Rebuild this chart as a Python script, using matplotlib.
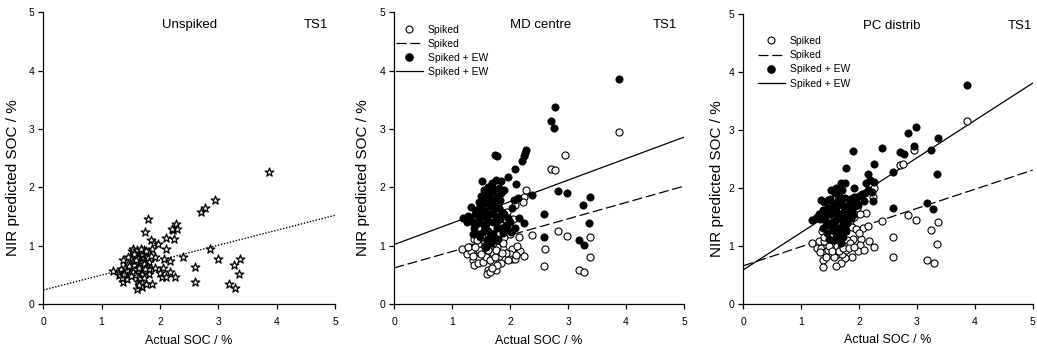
import matplotlib
matplotlib.use("Agg")
import matplotlib.pyplot as plt
from matplotlib.lines import Line2D
import numpy as np

plt.rcParams['font.family'] = ['Liberation Sans', 'DejaVu Sans']

# ---------------- data ----------------
# Panel 1: Unspiked
unspiked_x = [3.87, 2.95, 2.71, 2.77, 1.79, 1.75, 2.27, 2.23, 2.29, 2.20,
              2.10, 2.24, 2.11, 1.84, 1.90, 1.96, 1.87, 2.39, 2.86, 3.00,
              3.38, 3.27, 3.36, 3.18, 3.29, 2.60, 2.60, 2.07, 2.17, 2.05,
              1.91, 2.18, 2.00, 2.03, 2.10, 2.26, 1.82, 1.87, 1.91, 1.20,
              1.29, 1.37, 1.37, 1.43, 1.60, 1.69, 1.76, 1.30, 1.33, 1.35,
              1.40, 1.42, 1.45, 1.48, 1.50, 1.52, 1.54, 1.55, 1.57, 1.58,
              1.60, 1.61, 1.62, 1.63, 1.65, 1.66, 1.68, 1.70, 1.71, 1.72,
              1.74, 1.75, 1.77, 1.78, 1.80, 1.82, 1.84, 1.38, 1.44, 1.47,
              1.53, 1.56, 1.59, 1.64, 1.67, 1.69, 1.73, 1.76, 1.81, 1.62,
              1.65, 1.58, 1.72, 1.70, 1.64, 1.50, 1.46, 1.56, 1.68, 1.74]
unspiked_y = [2.26, 1.79, 1.58, 1.64, 1.45, 1.23, 1.37, 1.27, 1.28, 1.29,
              1.13, 1.12, 0.94, 1.09, 1.05, 1.03, 0.94, 0.80, 0.94, 0.77,
              0.77, 0.66, 0.51, 0.35, 0.28, 0.64, 0.38, 0.77, 0.73, 0.62,
              0.61, 0.55, 0.53, 0.47, 0.46, 0.47, 0.51, 0.35, 0.81, 0.57,
              0.49, 0.75, 0.37, 0.42, 0.25, 0.29, 0.34, 0.55, 0.60, 0.45,
              0.62, 0.55, 0.68, 0.58, 0.64, 0.90, 0.95, 0.72, 0.60, 0.82,
              0.92, 0.68, 0.55, 0.78, 0.88, 0.40, 0.70, 0.85, 0.62, 0.92,
              0.75, 0.55, 0.80, 0.66, 0.78, 0.72, 0.82, 0.52, 0.58, 0.65,
              0.55, 0.66, 0.75, 0.62, 0.93, 0.52, 0.68, 0.90, 0.60, 0.38,
              0.45, 0.50, 0.44, 0.36, 0.32, 0.48, 0.80, 0.86, 0.95, 0.60]

# Panel 2: MD centre
md_ew_x = [3.87, 2.78, 2.70, 2.76, 2.27, 2.24, 2.21, 2.26, 1.73, 1.77,
           2.08, 1.96, 2.10, 2.83, 2.98, 3.38, 2.37, 3.25, 2.59, 3.36,
           2.58, 3.18, 3.28, 2.24, 2.15, 2.08, 2.01, 1.97, 2.04, 2.06,
           2.14, 1.90, 1.90, 1.82, 1.85, 1.69, 1.67, 1.75, 1.51, 1.18,
           1.28, 1.33, 1.59, 1.35, 1.38, 1.40, 1.42, 1.45, 1.47, 1.50,
           1.52, 1.54, 1.55, 1.57, 1.58, 1.60, 1.61, 1.62, 1.63, 1.65,
           1.66, 1.68, 1.70, 1.71, 1.72, 1.74, 1.75, 1.77, 1.78, 1.80,
           1.82, 1.84, 1.86, 1.88, 1.60, 1.65, 1.70, 1.55, 1.48, 1.44,
           1.36, 1.30, 1.25, 1.52, 1.58, 1.63, 1.67, 1.73, 1.79, 1.92,
           1.95, 2.00, 1.85, 1.76, 1.62, 1.56, 1.46, 1.41, 1.68, 1.80]
md_ew_y = [3.86, 3.37, 3.14, 3.02, 2.64, 2.53, 2.45, 2.58, 2.55, 2.54,
           2.31, 2.18, 2.06, 1.93, 1.91, 1.84, 1.87, 1.69, 1.55, 1.39,
           1.14, 1.10, 1.01, 1.39, 1.47, 1.30, 1.24, 1.47, 1.64, 1.78,
           1.81, 1.55, 1.95, 1.78, 2.10, 2.07, 1.93, 2.13, 2.10, 1.47,
           1.51, 1.67, 0.98, 1.40, 1.30, 1.55, 1.20, 1.62, 1.45, 1.85,
           1.70, 1.35, 1.95, 1.60, 1.78, 1.48, 2.00, 1.25, 1.88, 1.68,
           1.55, 1.80, 1.40, 1.95, 1.62, 1.75, 1.50, 1.85, 1.30, 1.65,
           1.45, 1.90, 1.58, 1.22, 1.10, 1.15, 1.20, 1.25, 1.15, 1.38,
           1.20, 1.45, 1.40, 1.50, 1.38, 1.72, 1.05, 1.10, 1.12, 1.35,
           1.28, 1.40, 1.30, 1.42, 1.85, 1.90, 1.75, 1.60, 1.98, 1.98]
md_sp_x = [3.87, 2.94, 2.70, 2.77, 2.27, 2.24, 2.22, 2.08, 1.95, 2.37,
           2.83, 2.98, 3.38, 2.15, 2.60, 2.59, 3.18, 3.28, 3.37, 1.88,
           2.03, 2.00, 2.03, 2.17, 2.08, 2.24, 1.85, 1.75, 1.71, 1.62,
           1.60, 1.66, 1.17, 1.25, 1.31, 1.36, 1.37, 1.42, 1.47, 1.44,
           1.51, 1.55, 1.62, 1.70, 1.80, 1.78, 1.66, 1.58, 1.50, 1.45,
           1.40, 1.33, 1.28, 1.38, 1.48, 1.56, 1.64, 1.72, 1.82, 1.90,
           1.95, 2.00, 2.05, 1.85, 1.75, 1.68, 1.60, 1.52, 1.43, 1.35,
           1.47, 1.53, 1.58, 1.65, 1.73, 1.77, 1.92, 1.97, 2.10, 1.88,
           1.62, 1.70, 1.80, 1.57, 1.49, 1.39, 1.75, 1.86, 1.68, 2.12]
md_sp_y = [2.94, 2.55, 2.31, 2.30, 1.95, 1.84, 1.75, 1.69, 1.57, 1.18,
           1.25, 1.17, 1.14, 1.14, 0.94, 0.65, 0.59, 0.54, 0.81, 0.95,
           0.95, 0.85, 0.77, 0.90, 0.77, 0.82, 0.70, 0.59, 0.70, 0.59,
           0.51, 0.54, 0.94, 0.86, 0.97, 0.75, 0.67, 0.86, 0.78, 0.70,
           0.95, 0.88, 0.82, 0.88, 0.82, 0.98, 1.00, 1.05, 1.10, 1.02,
           0.92, 0.90, 0.98, 1.12, 1.20, 1.28, 1.15, 1.25, 1.10, 1.15,
           1.30, 1.20, 1.45, 1.35, 1.40, 1.32, 1.22, 1.15, 1.10, 0.82,
           0.92, 0.72, 0.80, 0.75, 0.80, 0.66, 0.88, 0.75, 0.84, 1.05,
           0.92, 1.05, 1.20, 0.98, 0.85, 0.98, 0.92, 0.88, 0.62, 1.00]

# Panel 3: PC distrib
pc_ew_x = [3.86, 2.98, 2.85, 2.95, 3.37, 3.24, 2.39, 2.70, 2.77, 1.90,
           2.26, 1.77, 2.58, 3.35, 2.15, 2.12, 2.19, 2.26, 2.23, 2.24,
           2.58, 3.17, 3.28, 1.91, 1.92, 1.61, 1.69, 1.76, 1.84, 1.19,
           1.27, 1.35, 1.44, 1.30, 1.33, 1.38, 1.40, 1.42, 1.45, 1.47,
           1.50, 1.52, 1.54, 1.55, 1.57, 1.58, 1.60, 1.62, 1.63, 1.65,
           1.66, 1.68, 1.70, 1.71, 1.72, 1.74, 1.75, 1.77, 1.78, 1.80,
           1.82, 1.85, 1.88, 1.95, 2.00, 2.05, 2.10, 2.15, 1.98, 1.93,
           1.56, 1.60, 1.64, 1.68, 1.48, 1.53, 1.58, 1.43, 1.37, 1.25,
           1.86, 1.76, 1.67, 1.61, 1.73, 1.79, 1.50, 1.46, 1.52, 1.65,
           2.08, 1.90, 1.81, 1.69, 1.59, 1.55, 1.71, 1.63, 1.58, 1.41]
pc_ew_y = [3.77, 3.04, 2.94, 2.72, 2.86, 2.65, 2.68, 2.61, 2.58, 2.63,
           2.40, 2.34, 2.26, 2.24, 2.24, 2.07, 2.13, 2.09, 1.93, 1.77,
           1.64, 1.73, 1.63, 1.99, 1.84, 1.99, 2.07, 2.07, 1.72, 1.44,
           1.50, 1.79, 1.21, 1.55, 1.45, 1.62, 1.75, 1.50, 1.35, 1.65,
           1.80, 1.55, 1.40, 1.70, 1.25, 1.90, 1.60, 1.45, 1.78, 1.30,
           1.85, 1.55, 1.70, 1.95, 1.40, 1.60, 1.82, 1.50, 1.25, 1.66,
           1.58, 1.80, 1.62, 1.75, 1.85, 1.88, 1.90, 1.95, 1.70, 1.68,
           1.10, 1.15, 1.20, 1.05, 1.12, 1.32, 1.42, 1.40, 1.30, 1.48,
           1.48, 1.35, 1.72, 1.68, 1.15, 1.38, 1.55, 1.78, 1.95, 1.92,
           1.76, 1.52, 1.45, 1.48, 1.30, 1.62, 1.27, 1.52, 1.72, 1.58]
pc_sp_x = [3.86, 2.95, 2.71, 2.76, 2.26, 2.24, 2.12, 2.39, 2.85, 2.99,
           3.37, 3.25, 2.58, 2.58, 3.35, 3.17, 3.29, 2.06, 2.16, 1.90,
           2.03, 2.02, 2.17, 2.25, 1.99, 2.09, 1.87, 1.75, 1.61, 1.70,
           1.68, 1.61, 1.19, 1.27, 1.35, 1.38, 1.38, 1.36, 1.30, 1.42,
           1.45, 1.48, 1.52, 1.55, 1.58, 1.62, 1.65, 1.70, 1.75, 1.80,
           1.85, 1.40, 1.33, 1.46, 1.50, 1.56, 1.64, 1.72, 1.78, 1.84,
           1.92, 1.97, 2.02, 1.88, 1.95, 1.60, 1.68, 1.78, 1.57, 1.43,
           1.48, 1.53, 1.66, 1.73, 1.82, 1.92, 2.00, 1.85, 1.40, 1.54]
pc_sp_y = [3.15, 2.64, 2.39, 2.40, 2.00, 1.83, 1.56, 1.42, 1.53, 1.44,
           1.41, 1.27, 1.15, 0.81, 1.02, 0.75, 0.69, 1.31, 1.34, 1.11,
           1.12, 1.01, 1.08, 0.98, 0.90, 0.93, 0.81, 0.78, 0.84, 0.85,
           0.69, 0.65, 1.05, 0.95, 0.95, 0.75, 0.63, 1.25, 1.08, 0.88,
           1.00, 0.85, 1.10, 0.95, 1.05, 1.00, 1.12, 1.05, 1.02, 1.10,
           1.05, 1.08, 0.88, 0.92, 1.20, 1.28, 1.30, 1.22, 1.30, 1.42,
           1.50, 1.65, 1.55, 1.32, 1.28, 1.18, 0.95, 0.92, 0.80, 0.80,
           1.00, 0.90, 0.90, 0.95, 0.96, 0.98, 1.22, 1.55, 1.15, 1.18]

# regression lines: (intercept, slope)
unspiked_fit = [0.24, 0.256]
md_sp_fit = [0.62, 0.28]
md_ew_fit = [1.02, 0.368]
pc_sp_fit = [0.65, 0.33]
pc_ew_fit = [0.58, 0.644]

titles = ["Unspiked", "MD centre", "PC distrib"]
ticks = [0, 1, 2, 3, 4, 5]
xlabel = "Actual SOC / %"
ylabel = "NIR predicted SOC / %"
legend_labels = ["Spiked", "Spiked", "Spiked + EW", "Spiked + EW"]

# ---------------- figure ----------------
W, H = 1037, 349
fig = plt.figure(figsize=(W / 100, H / 100), dpi=100)

def px_axes(l, r, t, b):
    return fig.add_axes([l / W, (H - b) / H, (r - l) / W, (b - t) / H])

ax1 = px_axes(43.3, 335.0, 12.3, 304.0)
ax2 = px_axes(394.3, 684.0, 12.3, 304.0)
ax3 = px_axes(743.3, 1032.7, 13.5, 303.5)
axes = [ax1, ax2, ax3]

fx = np.array([0.0, 5.0])

def style(ax, ylab_x):
    ax.set_xlim(0, 5)
    ax.set_ylim(0, 5)
    ax.set_xticks(ticks)
    ax.set_yticks(ticks)
    for s in ['top', 'right']:
        ax.spines[s].set_visible(False)
    for s in ['left', 'bottom']:
        ax.spines[s].set_linewidth(0.9)
    ax.tick_params(direction='out', length=3.5, width=0.9, labelsize=7.5)
    ax.tick_params(axis='x', pad=6)
    ax.tick_params(axis='y', pad=3)
    ax.set_xlabel(xlabel, fontsize=9)
    ax.set_ylabel(ylabel, fontsize=11)
    ax.xaxis.set_label_coords(0.5, -0.126)
    ax.xaxis.label.set_va('center')
    ax.yaxis.set_label_coords(ylab_x, 0.432)
    ax.yaxis.label.set_va('center')

# Panel 1
ax1.scatter(unspiked_x, unspiked_y, marker='*', s=42, facecolor='white',
            edgecolor='black', linewidths=0.9, zorder=3)
ax1.plot(fx, unspiked_fit[0] + unspiked_fit[1] * fx, color='black',
         linestyle=(0, (1, 1.2)), linewidth=1.0, zorder=2)
style(ax1, -0.104)
ax1.text(0.5, 0.956, titles[0], transform=ax1.transAxes, ha='center',
         va='center', fontsize=9.5)
ax1.text(0.935, 0.956, "TS1", transform=ax1.transAxes, ha='center',
         va='center', fontsize=9.5)

def spiked_panel(ax, ew_x, ew_y, sp_x, sp_y, sp_fit, ew_fit, title,
                 title_x, ts_x, leg_anchor, ylab_x):
    ax.scatter(sp_x, sp_y, marker='o', s=26, facecolor='white',
               edgecolor='black', linewidths=0.8, zorder=3)
    ax.scatter(ew_x, ew_y, marker='o', s=27, facecolor='black',
               edgecolor='black', linewidths=0.6, zorder=4)
    ax.plot(fx, sp_fit[0] + sp_fit[1] * fx, color='black',
            linestyle=(0, (8, 3)), linewidth=0.9, zorder=2)
    ax.plot(fx, ew_fit[0] + ew_fit[1] * fx, color='black',
            linestyle='-', linewidth=0.9, zorder=2)
    style(ax, ylab_x)
    ax.text(title_x, 0.956, title, transform=ax.transAxes, ha='center',
            va='center', fontsize=9.5)
    ax.text(ts_x, 0.956, "TS1", transform=ax.transAxes, ha='center',
            va='center', fontsize=9.5)
    handles = [
        Line2D([], [], marker='o', linestyle='none', markersize=5,
               markerfacecolor='white', markeredgecolor='black',
               markeredgewidth=0.8),
        Line2D([], [], color='black', linestyle=(0, (8, 3)), linewidth=0.9),
        Line2D([], [], marker='o', linestyle='none', markersize=5.2,
               markerfacecolor='black', markeredgecolor='black'),
        Line2D([], [], color='black', linestyle='-', linewidth=0.9),
    ]
    ax.legend(handles, legend_labels, loc='upper left',
              bbox_to_anchor=leg_anchor, frameon=False, fontsize=7.5,
              handlelength=2.6, handletextpad=0.5, labelspacing=0.4,
              borderaxespad=0, borderpad=0)

spiked_panel(ax2, md_ew_x, md_ew_y, md_sp_x, md_sp_y, md_sp_fit, md_ew_fit,
             titles[1], 0.505, 0.934, (0.005, 0.958), -0.108)
spiked_panel(ax3, pc_ew_x, pc_ew_y, pc_sp_x, pc_sp_y, pc_sp_fit, pc_ew_fit,
             titles[2], 0.514, 0.956, (0.05, 0.922), -0.091)

fig.savefig("out.png", dpi=100)
